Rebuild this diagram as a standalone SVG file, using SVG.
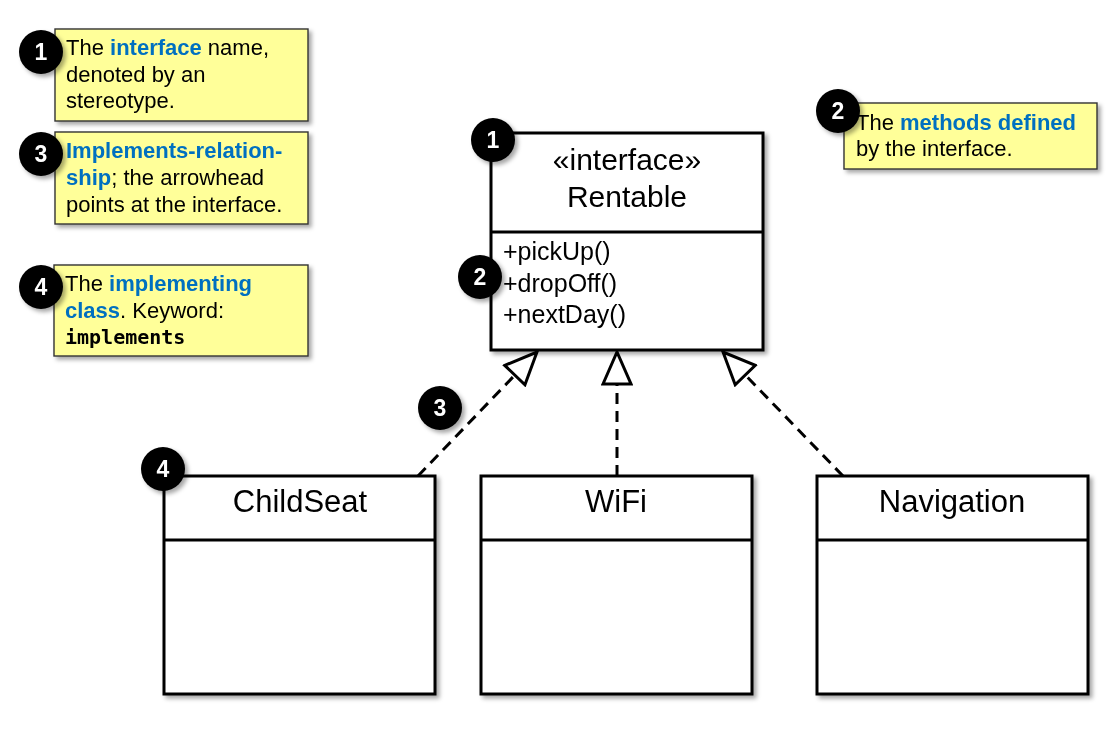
<svg xmlns="http://www.w3.org/2000/svg" width="1111" height="729" viewBox="0 0 1111 729">
<style>
.note{fill:#FFFF99;stroke:#333;stroke-width:1.4}
.nt{font-family:"Liberation Sans",Arial,sans-serif;font-size:22px;fill:#000}
.b{font-weight:bold;fill:#0070C0}
.mono{font-family:"DejaVu Sans Mono","Liberation Mono",monospace;font-weight:bold;font-size:20px}
.box{fill:#fff;stroke:#000;stroke-width:3}
.sep{stroke:#000;stroke-width:3}
.title{font-family:"Liberation Sans",Arial,sans-serif;font-size:30px;fill:#000;text-anchor:middle}
.meth{font-family:"Liberation Sans",Arial,sans-serif;font-size:25px;fill:#000}
.num{fill:#000}
.numt{font-family:"Liberation Sans",Arial,sans-serif;font-size:23px;font-weight:bold;fill:#fff;text-anchor:middle}
.conn{stroke:#000;stroke-width:3;stroke-dasharray:11 7;fill:none}
</style>
<defs>
<filter id="sh" x="-20%" y="-20%" width="150%" height="150%">
<feDropShadow dx="3" dy="3" stdDeviation="2" flood-color="#000" flood-opacity="0.35"/>
</filter>
<marker id="tri" viewBox="0 0 36 32" refX="34" refY="16" markerWidth="36" markerHeight="32" markerUnits="userSpaceOnUse" orient="auto">
<path d="M2,2 L34,16 L2,30 Z" fill="#fff" stroke="#000" stroke-width="3" stroke-linejoin="miter"/>
</marker>
</defs>

<g id="note1" filter="url(#sh)">
<rect class="note" x="55" y="29" width="253" height="92"/>
<text class="nt" x="66" y="55">The <tspan class="b">interface</tspan> name,</text>
<text class="nt" x="66" y="82">denoted by an</text>
<text class="nt" x="66" y="108">stereotype.</text>
</g>
<g id="note3" filter="url(#sh)">
<rect class="note" x="55" y="132" width="253" height="92"/>
<text class="nt" x="66" y="158"><tspan class="b">Implements-relation-</tspan></text>
<text class="nt" x="66" y="185"><tspan class="b">ship</tspan>; the arrowhead</text>
<text class="nt" x="66" y="212">points at the interface.</text>
</g>
<g id="note4" filter="url(#sh)">
<rect class="note" x="54" y="265" width="254" height="91"/>
<text class="nt" x="65" y="291">The <tspan class="b">implementing</tspan></text>
<text class="nt" x="65" y="318"><tspan class="b">class</tspan>. Keyword:</text>
<text class="mono" x="65" y="344">implements</text>
</g>
<g id="note2" filter="url(#sh)">
<rect class="note" x="844" y="103" width="253" height="66"/>
<text class="nt" x="856" y="130">The <tspan class="b">methods defined</tspan></text>
<text class="nt" x="856" y="156">by the interface.</text>
</g>

<g id="connectors">
<line class="conn" x1="418" y1="476" x2="537" y2="352" marker-end="url(#tri)"/>
<line class="conn" x1="617" y1="476" x2="617" y2="352" marker-end="url(#tri)"/>
<line class="conn" x1="843" y1="476" x2="723" y2="352" marker-end="url(#tri)"/>
</g>

<g id="rentable" filter="url(#sh)">
<rect class="box" x="491" y="133" width="272" height="217"/>
<line class="sep" x1="491" y1="232" x2="763" y2="232"/>
<text class="title" x="627" y="170">«interface»</text>
<text class="title" x="627" y="207">Rentable</text>
<text class="meth" x="503" y="260">+pickUp()</text>
<text class="meth" x="503" y="292">+dropOff()</text>
<text class="meth" x="503" y="323">+nextDay()</text>
</g>

<g id="childseat" filter="url(#sh)">
<rect class="box" x="164" y="476" width="271" height="218"/>
<line class="sep" x1="164" y1="540" x2="435" y2="540"/>
<text class="title" x="300" y="512" style="font-size:31px">ChildSeat</text>
</g>
<g id="wifi" filter="url(#sh)">
<rect class="box" x="481" y="476" width="271" height="218"/>
<line class="sep" x1="481" y1="540" x2="752" y2="540"/>
<text class="title" x="616" y="512" style="font-size:31px">WiFi</text>
</g>
<g id="navigation" filter="url(#sh)">
<rect class="box" x="817" y="476" width="271" height="218"/>
<line class="sep" x1="817" y1="540" x2="1088" y2="540"/>
<text class="title" x="952" y="512" style="font-size:31px">Navigation</text>
</g>

<g id="badges" filter="url(#sh)">
<g id="b1a"><circle class="num" cx="41" cy="52" r="22"/><text class="numt" x="41" y="60">1</text></g>
<g id="b3a"><circle class="num" cx="41" cy="154" r="22"/><text class="numt" x="41" y="162">3</text></g>
<g id="b4a"><circle class="num" cx="41" cy="287" r="22"/><text class="numt" x="41" y="295">4</text></g>
<g id="b2a"><circle class="num" cx="838" cy="111" r="22"/><text class="numt" x="838" y="119">2</text></g>
<g id="b1b"><circle class="num" cx="493" cy="140" r="22"/><text class="numt" x="493" y="148">1</text></g>
<g id="b2b"><circle class="num" cx="480" cy="277" r="22"/><text class="numt" x="480" y="285">2</text></g>
<g id="b3b"><circle class="num" cx="440" cy="408" r="22"/><text class="numt" x="440" y="416">3</text></g>
<g id="b4b"><circle class="num" cx="163" cy="469" r="22"/><text class="numt" x="163" y="477">4</text></g>
</g>
</svg>
